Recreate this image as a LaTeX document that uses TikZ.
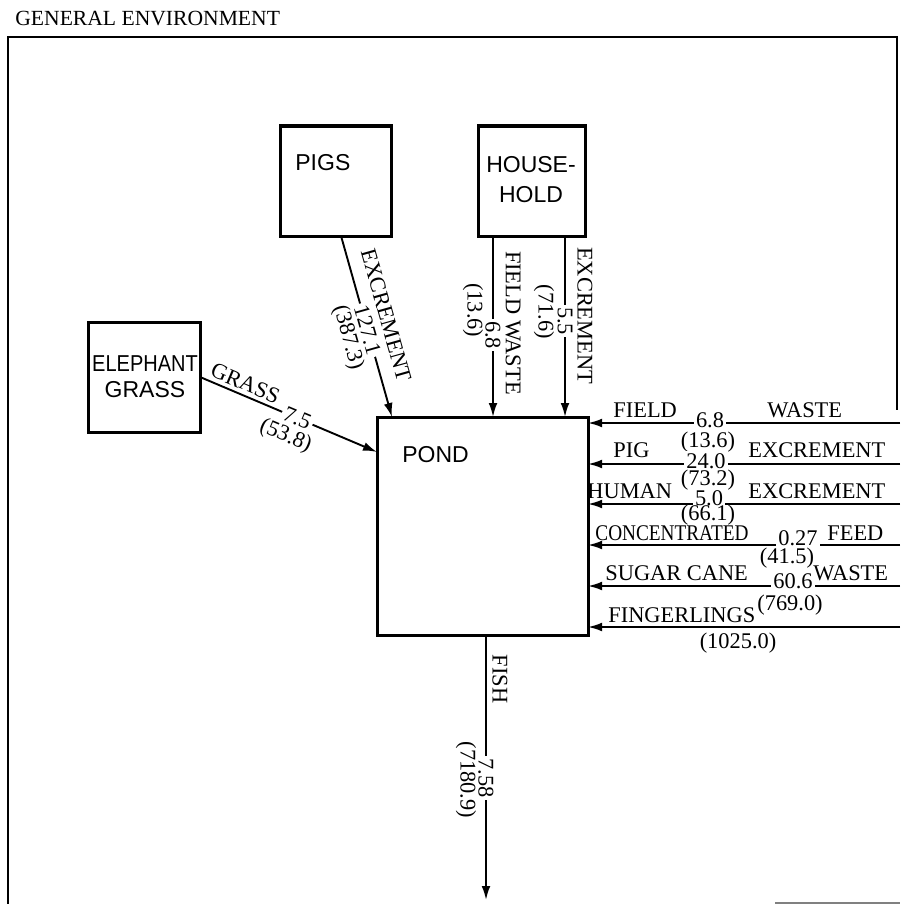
\documentclass[tikz,border=0pt]{standalone}
\usepackage{fontspec}
\setmainfont{Liberation Serif}
\setsansfont{Liberation Sans}
\usetikzlibrary{arrows.meta,calc}
\begin{document}
\begin{tikzpicture}[x=0.5pt,y=-0.5pt,
  box/.style={draw,line width=1.5pt,inner sep=0pt,outer sep=0pt},
  boxtext/.style={font=\fontsize{11.5}{15}\selectfont\sffamily,inner sep=0pt},
  lbl/.style={font=\fontsize{11.2}{13}\selectfont,inner sep=0pt},
  num/.style={font=\fontsize{11.2}{13}\selectfont,fill=white,inner sep=1.2pt},
  flow/.style={line width=0.95pt,-{Latex[length=7pt,width=4.4pt]}},
]
\useasboundingbox (0,0) rectangle (900,904);
% frame
\draw[line width=1pt] (8,904) -- (8,37) -- (897,37) -- (897,410);
\draw[gray,line width=1pt] (775,903) -- (900,903);
\node[lbl,anchor=base west,font=\fontsize{10.8}{13}\selectfont] (title) at (15,26) {GENERAL ENVIRONMENT};
% boxes
\node[box,minimum width=55.5pt,minimum height=55pt] (pigs) at (335.5,181) {};
\node[box,minimum width=53.5pt,minimum height=55pt] (house) at (531.5,181) {};
\node[box,minimum width=56pt,minimum height=55pt] (grass) at (144,377) {};
\node[box,minimum width=105.5pt,minimum height=109pt] (pond) at (482.5,526) {};
\node[boxtext,anchor=base west] (pigst) at (295,170) {PIGS};
\node[boxtext,align=center] (houset) at (531,180) {HOUSE-\\HOLD};
\node[boxtext,align=center,font=\fontsize{11.5}{13}\selectfont\sffamily] (grasst) at (145,377) {\scalebox{0.87}[1]{ELEPHANT}\\GRASS};
\node[boxtext,anchor=base west] (pondt) at (402,462) {POND};
% pigs excrement
\draw[flow] ($(pigs.south west)!0.55!(pigs.south east)$) --
  node[num,sloped,pos=0.52] (n1) {127.1}
  node[lbl,sloped,pos=0.47,yshift=11pt] (t1) {EXCREMENT}
  node[lbl,sloped,pos=0.53,yshift=-10.5pt] (p1) {(387.3)}
  ($(pond.north west)+(15,0)$);
% household field waste
\draw[flow] ($(house.south west)+(15,0)$) --
  node[num,sloped,pos=0.547] (n2) {6.8}
  node[lbl,sloped,pos=0.48,yshift=10pt] (t2) {FIELD WASTE}
  node[lbl,sloped,pos=0.41,yshift=-10pt] (p2) {(13.6)}
  ($(pond.north west)+(116,0)$);
% household excrement
\draw[flow] ($(house.south east)+(-20,0)$) --
  node[num,sloped,pos=0.47] (n3) {5.5}
  node[lbl,sloped,pos=0.44,yshift=10pt] (t3) {EXCREMENT}
  node[lbl,sloped,pos=0.42,yshift=-10.5pt] (p3) {(71.6)}
  ($(pond.north west)+(188,0)$);
% elephant grass
\draw[flow] (grass.east) --
  node[num,sloped,pos=0.55] (n4) {7.5}
  node[lbl,sloped,pos=0.23,yshift=6pt] (t4) {GRASS}
  node[lbl,sloped,pos=0.53,yshift=-10.6pt] (p4) {(53.8)}
  ($(pond.north west)+(0,35)$);
% fish
\coordinate (fishend) at (486,900);
\draw[flow] (pond.south -| fishend) --
  node[num,sloped,pos=0.54] (n5) {7.58}
  node[lbl,sloped,pos=0.166,yshift=7pt] (t5) {FISH}
  node[lbl,sloped,pos=0.547,yshift=-10pt] (p5) {(7180.9)}
  (fishend);
% right-hand inputs
\coordinate (in1) at (900,423);
\coordinate (in2) at (900,464);
\coordinate (in3) at (900,504);
\coordinate (in4) at (900,545);
\coordinate (in5) at (900,586);
\coordinate (in6) at (900,627);
\foreach \i in {1,...,6} {\draw[flow] (in\i) -- (pond.east |- in\i);}
% row 1
\node[lbl,anchor=base west] (r1a) at (613,417) {FIELD};
\node[num] (r1n) at (710,420) {6.8};
\node[lbl,anchor=base west] (r1b) at (767,417) {WASTE};
\node[lbl,anchor=north] (r1p) at (708,432) {(13.6)};
% row 2
\node[lbl,anchor=base west] (r2a) at (613,457) {PIG};
\node[num] (r2n) at (706,461) {24.0};
\node[lbl,anchor=base west] (r2b) at (748,457) {EXCREMENT};
\node[lbl,anchor=north] (r2p) at (708,470) {(73.2)};
% row 3
\node[lbl,anchor=base west] (r3a) at (587,498) {HUMAN};
\node[num] (r3n) at (709,498) {5.0};
\node[lbl,anchor=base west] (r3b) at (748,498) {EXCREMENT};
\node[lbl,anchor=north] (r3p) at (708,505) {(66.1)};
% row 4
\node[lbl,anchor=base west] (r4a) at (595,540) {\scalebox{0.86}[1]{CONCENTRATED}};
\node[num] (r4n) at (798,538) {0.27};
\node[lbl,anchor=base west] (r4b) at (827,540) {FEED};
\node[lbl,anchor=north] (r4p) at (787,548) {(41.5)};
% row 5
\node[lbl,anchor=base west] (r5a) at (605,580) {SUGAR CANE};
\node[num] (r5n) at (793,581) {60.6};
\node[lbl,anchor=base west] (r5b) at (813,580) {WASTE};
\node[lbl,anchor=north] (r5p) at (790,595) {(769.0)};
% row 6
\node[lbl,anchor=base west] (r6a) at (608,622) {FINGERLINGS};
\node[lbl,anchor=north] (r6p) at (738,633) {(1025.0)};
\end{tikzpicture}
\end{document}
